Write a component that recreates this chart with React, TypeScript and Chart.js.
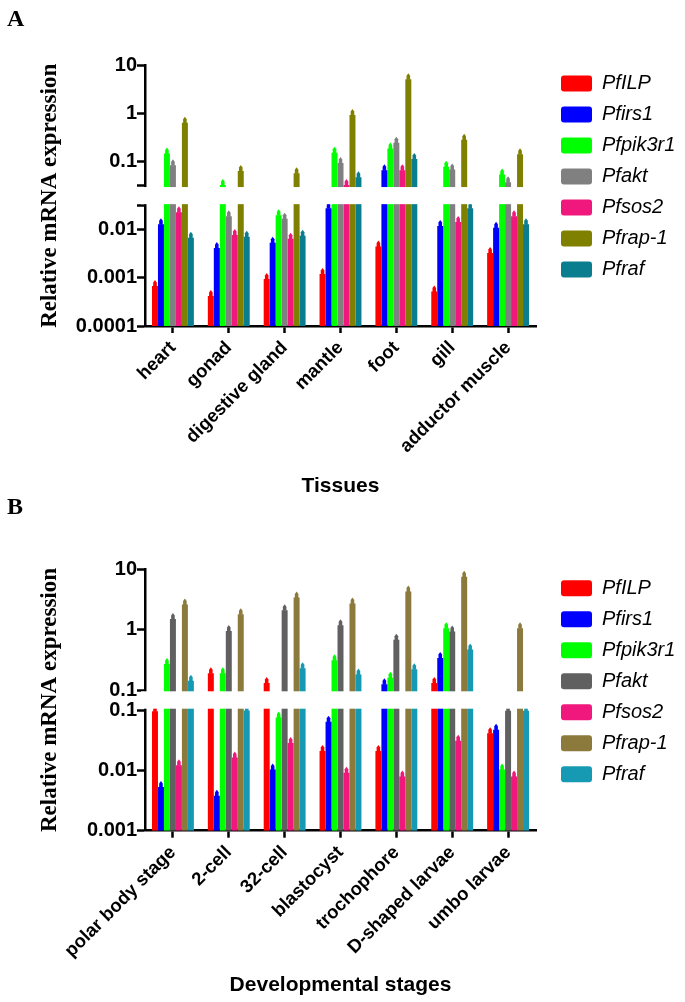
import React, { useEffect, useRef } from 'react';
import { Chart, registerables, LogarithmicScale } from 'chart.js';

Chart.register(...registerables);

// ---------- data ----------
const genes = ['PfILP', 'Pfirs1', 'Pfpik3r1', 'Pfakt', 'Pfsos2', 'Pfrap-1', 'Pfraf'];

const tissues = ['heart', 'gonad', 'digestive gland', 'mantle', 'foot', 'gill', 'adductor muscle'];
const tissuePfILP = [0.00068, 0.00042, 0.00095, 0.0012, 0.0045, 0.00052, 0.0033];
const tissuePfirs1 = [0.013, 0.0042, 0.0054, 0.028, 0.067, 0.012, 0.011];
const tissuePfpik3r1 = [0.15, 0.033, 0.02, 0.155, 0.19, 0.079, 0.055];
const tissuePfakt = [0.085, 0.019, 0.017, 0.095, 0.25, 0.07, 0.038];
const tissuePfsos2 = [0.023, 0.0078, 0.0065, 0.033, 0.067, 0.0145, 0.019];
const tissuePfrap1 = [0.65, 0.065, 0.058, 0.95, 5.2, 0.29, 0.145];
const tissuePfraf = [0.0068, 0.0072, 0.0075, 0.048, 0.115, 0.028, 0.013];
const tissueTicks = [0.0001, 0.001, 0.01, 0.1, 1, 10];
const tissueBreak = 0.032;

const stages = ['polar body stage', '2-cell', '32-cell', 'blastocyst', 'trochophore', 'D-shaped larvae', 'umbo larvae'];
const stagePfILP = [0.095, 0.19, 0.13, 0.021, 0.021, 0.13, 0.041];
const stagePfirs1 = [0.0053, 0.0038, 0.0103, 0.064, 0.125, 0.34, 0.047];
const stagePfpik3r1 = [0.27, 0.19, 0.075, 0.31, 0.16, 1.05, 0.0103];
const stagePfakt = [1.5, 0.95, 2.1, 1.18, 0.68, 0.93, 0.097];
const stagePfsos2 = [0.0122, 0.0163, 0.0283, 0.0091, 0.0079, 0.031, 0.0079];
const stagePfrap1 = [2.6, 1.8, 3.4, 2.7, 4.3, 7.5, 1.05];
const stagePfraf = [0.143, 0.098, 0.23, 0.18, 0.22, 0.47, 0.097];
const stageTicks = [0.001, 0.01, 0.1, 1, 10];
const stageBreak = 0.1;

const colorsA = ['#FF0000', '#0000FF', '#00FF00', '#808080', '#F0187D', '#808000', '#0A7D8F'];
const colorsB = ['#FF0000', '#0000FF', '#00FF00', '#606060', '#F0187D', '#8C7A3C', '#1699B3'];

const SANS = "'Liberation Sans', Arial, sans-serif";
const SERIF = "'Liberation Serif', 'Times New Roman', serif";

// ---------- broken logarithmic scale ----------
class BrokenLogScale extends LogarithmicScale {
  static id = 'brokenLog';

  determineDataLimits() {
    const o: any = this.options;
    (this as any).min = o.min;
    (this as any).max = o.max;
  }

  buildTicks() {
    const o: any = this.options;
    const brk = o.brk;
    const list: any[] = [];
    let hasBrk = false;
    for (const v of o.tickValues) {
      const lbl = String(v);
      if (v < brk) list.push({ value: v, seg: 'lo', lbl });
      else if (v > brk) list.push({ value: v, seg: 'hi', lbl });
      else {
        hasBrk = true;
        list.push({ value: v, seg: 'lo', lbl }, { value: v, seg: 'hi', lbl });
      }
    }
    if (!hasBrk) list.push({ value: brk, seg: 'lo', lbl: '' }, { value: brk, seg: 'hi', lbl: '' });
    list.sort((a, b) => (a.value - b.value) || (a.seg === 'lo' ? -1 : 1));
    (this as any).start = (this as any).min;
    (this as any).end = (this as any).max;
    return list;
  }

  _geom() {
    const s: any = this;
    const o: any = this.options;
    const lo = Math.log10(o.brk) - Math.log10(s.min);
    const hi = Math.log10(s.max) - Math.log10(o.brk);
    const ppd = (s.bottom - s.top - o.gapPx) / (lo + hi);
    return { ppd, yLoTop: s.bottom - lo * ppd, yHiBottom: s.top + hi * ppd };
  }

  _pix(value: any, seg?: string) {
    const s: any = this;
    const o: any = this.options;
    if (value === undefined || value === 0) value = s.min;
    if (value === null || isNaN(value)) return NaN;
    const { ppd } = this._geom();
    const side = seg || (value > o.brk ? 'hi' : 'lo');
    const lv = Math.log10(value);
    return side === 'hi'
      ? s.top + (Math.log10(s.max) - lv) * ppd
      : s.bottom - (lv - Math.log10(s.min)) * ppd;
  }

  getPixelForValue(value: any) {
    return this._pix(value);
  }

  getPixelForTick(index: number) {
    const t: any = (this as any).ticks[index];
    return t ? this._pix(t.value, t.seg) : NaN;
  }

  getValueForPixel(pixel: number) {
    const s: any = this;
    const { ppd, yHiBottom } = this._geom();
    if (pixel <= yHiBottom) return Math.pow(10, Math.log10(s.max) - (pixel - s.top) / ppd);
    return Math.pow(10, Math.log10(s.min) + (s.bottom - pixel) / ppd);
  }
}
Chart.register(BrokenLogScale as any);

// ---------- plugins ----------
const tipsAndBreak = {
  id: 'tipsAndBreak',
  afterDatasetsDraw(chart: any) {
    const ctx = chart.ctx;
    ctx.save();
    chart.data.datasets.forEach((ds: any, i: number) => {
      const meta = chart.getDatasetMeta(i);
      meta.data.forEach((bar: any) => {
        const x = bar.x, y = bar.y, hw = bar.width * 0.3;
        ctx.fillStyle = ds.backgroundColor;
        ctx.beginPath();
        ctx.moveTo(x - hw, y + 0.5);
        ctx.lineTo(x - hw, y - 3.5);
        ctx.lineTo(x, y - 6);
        ctx.lineTo(x + hw, y - 3.5);
        ctx.lineTo(x + hw, y + 0.5);
        ctx.closePath();
        ctx.fill();
      });
    });
    const ys = chart.scales.y;
    const g = ys._geom();
    const ca = chart.chartArea;
    ctx.fillStyle = '#ffffff';
    ctx.fillRect(ca.left - 4, g.yHiBottom + 1.3, ca.right - ca.left + 8, g.yLoTop - g.yHiBottom - 2.6);
    ctx.restore();
  },
};

const placeLegend = {
  id: 'placeLegend',
  beforeLayout(chart: any, _a: any, opts: any) {
    const lg = chart.legend;
    if (lg && !lg.__fixed) {
      const orig = lg.fit;
      lg.fit = function () {
        orig.call(this);
        this.width = opts.width;
      };
      lg.__fixed = true;
    }
  },
  afterLayout(chart: any, _a: any, opts: any) {
    const lg = chart.legend;
    if (!lg) return;
    const dx = opts.x - lg.left;
    lg.left += dx;
    lg.right += dx;
    const dy = opts.y - lg.top;
    lg.top += dy;
  },
};

// ---------- chart builder ----------
function buildConfig(p: any) {
  return {
    type: 'bar',
    data: {
      labels: p.labels,
      datasets: genes.map((g, i) => ({
        label: g,
        data: p.series[i],
        backgroundColor: p.colors[i],
        borderWidth: 0,
        categoryPercentage: 0.75,
        barPercentage: 1,
      })),
    },
    options: {
      animation: false,
      responsive: false,
      maintainAspectRatio: false,
      layout: { padding: { left: 0, top: p.padTop, right: 0, bottom: p.padBottom } },
      plugins: {
        tooltip: { enabled: false },
        legend: {
          position: 'right',
          align: 'start',
          labels: {
            boxWidth: 31,
            boxHeight: 16,
            padding: 11,
            color: '#000',
            useBorderRadius: true,
            borderRadius: 3,
            font: { family: SANS, size: 20, style: 'italic' },
          },
        },
        placeLegend: { width: 149, x: 550, y: p.legendTop },
      },
      scales: {
        x: {
          grid: {
            display: true,
            drawOnChartArea: false,
            drawTicks: true,
            tickLength: 7,
            tickWidth: 2.5,
            tickColor: '#000',
            color: '#000',
            offset: false,
          },
          border: { display: true, color: '#000', width: 2.5 },
          ticks: {
            color: '#000',
            font: { family: SANS, size: 18.5, weight: 'bold' },
            minRotation: 45,
            maxRotation: 45,
            autoSkip: false,
            padding: 4,
          },
          title: {
            display: true,
            text: p.xTitle,
            color: '#000',
            font: { family: SANS, size: 21, weight: 'bold' },
            padding: { top: 0, bottom: 0 },
          },
          afterFit: (s: any) => {
            s.height = p.xHeight;
          },
        },
        y: {
          type: 'brokenLog',
          min: p.min,
          max: p.max,
          brk: p.brk,
          gapPx: p.gapPx,
          tickValues: p.ticks,
          grid: {
            display: true,
            drawOnChartArea: false,
            drawTicks: true,
            tickLength: 8,
            tickWidth: 2.5,
            tickColor: '#000',
            color: '#000',
          },
          border: { display: true, color: '#000', width: 2.5 },
          ticks: {
            color: '#000',
            font: { family: SANS, size: 20, weight: 'bold' },
            padding: 0,
            autoSkip: false,
            callback: (_v: any, i: number, t: any[]) => t[i].lbl,
          },
          title: {
            display: true,
            text: 'Relative mRNA expression',
            color: '#000',
            font: { family: SERIF, size: 23, weight: 'bold' },
            padding: { top: 36, bottom: 0 },
          },
          afterFit: (s: any) => {
            s.width = 145;
          },
        },
      },
    },
    plugins: [tipsAndBreak, placeLegend],
  };
}

const panelA = {
  labels: tissues,
  series: [tissuePfILP, tissuePfirs1, tissuePfpik3r1, tissuePfakt, tissuePfsos2, tissuePfrap1, tissuePfraf],
  colors: colorsA,
  min: 0.0001,
  max: 10,
  brk: tissueBreak,
  ticks: tissueTicks,
  gapPx: 19.7,
  xTitle: 'Tissues',
  top: 0,
  height: 500,
  padTop: 65.7,
  padBottom: 1.4,
  xHeight: 172.6,
  legendTop: 62.5,
};

const panelB = {
  labels: stages,
  series: [stagePfILP, stagePfirs1, stagePfpik3r1, stagePfakt, stagePfsos2, stagePfrap1, stagePfraf],
  colors: colorsB,
  min: 0.001,
  max: 10,
  brk: stageBreak,
  ticks: stageTicks,
  gapPx: 20,
  xTitle: 'Developmental stages',
  top: 500,
  height: 502,
  padTop: 69.3,
  padBottom: 4.4,
  xHeight: 166.9,
  legendTop: 67.3,
};

function Panel({ p }: { p: any }) {
  const ref = useRef<HTMLCanvasElement>(null);
  useEffect(() => {
    const chart = new Chart(ref.current as any, buildConfig(p) as any);
    return () => chart.destroy();
  }, []);
  return (
    <canvas
      ref={ref}
      width={685}
      height={p.height}
      style={{ position: 'absolute', left: 0, top: p.top, width: 685, height: p.height }}
    />
  );
}

const letterStyle: any = {
  position: 'absolute',
  left: 7,
  fontFamily: SERIF,
  fontWeight: 'bold',
  fontSize: 24,
  lineHeight: '24px',
  color: '#000',
};

export default function App() {
  return (
    <div style={{ position: 'absolute', left: 0, top: 0, width: 685, height: 1002, background: '#fff' }}>
      <Panel p={panelA} />
      <Panel p={panelB} />
      <div style={{ ...letterStyle, top: 6 }}>A</div>
      <div style={{ ...letterStyle, top: 494 }}>B</div>
    </div>
  );
}
